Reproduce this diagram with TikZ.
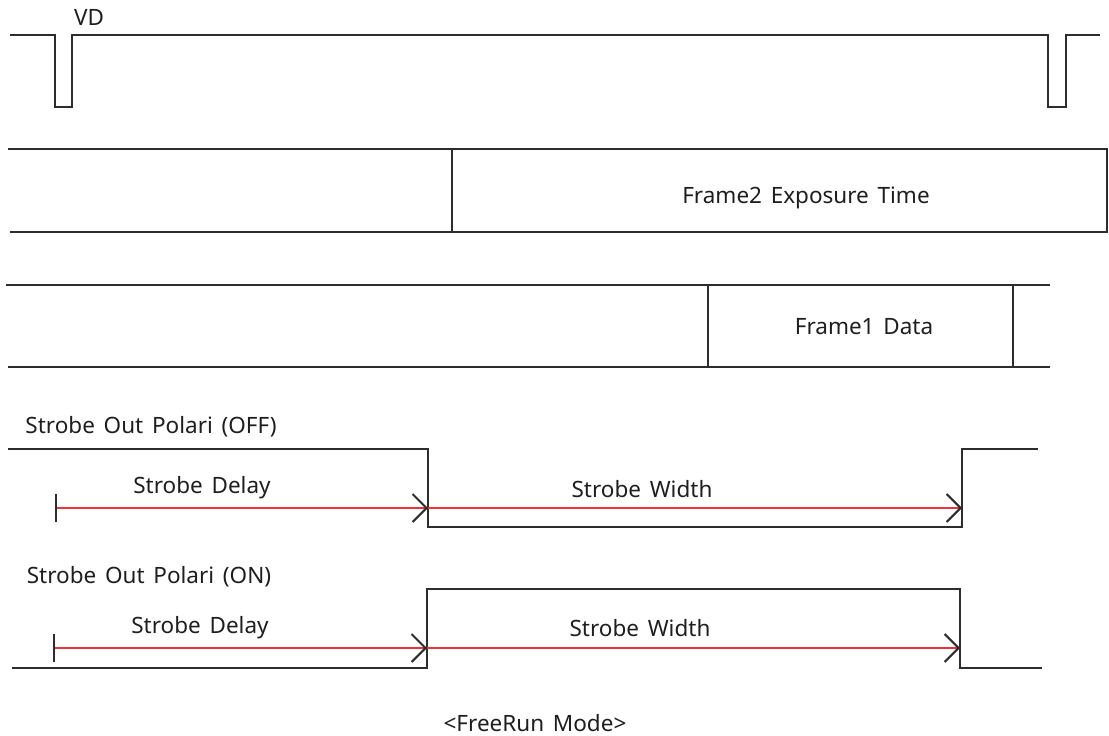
\documentclass[tikz,border=0pt]{standalone}
\usepackage{fontspec}
\setmainfont{Noto Sans}
\newfontfamily\lbfontfam[WordSpace=1.5]{Noto Sans}
\usetikzlibrary{arrows.meta}
\definecolor{linec}{RGB}{45,45,45}
\definecolor{redc}{RGB}{238,50,55}
\definecolor{txtc}{RGB}{30,30,30}
\tikzset{
  wave/.style={draw=linec, line width=2.2pt, line join=miter},
  lbl/.style={anchor=base, inner sep=0pt, text=txtc, font=\lbfontfam\fontsize{22.5}{26}\selectfont},
  delayarrow/.style={draw=redc, line width=2pt,
     {Bar[color=linec,width=28pt]}-{Straight Barb[color=linec,length=14pt,width=28pt]}},
  widtharrow/.style={draw=redc, line width=2pt,
     -{Straight Barb[color=linec,length=14pt,width=28pt]}}
}
\begin{document}
\begin{tikzpicture}[x=1pt,y=-1pt]
\useasboundingbox (0,0) rectangle (1109,736);
% VD
\draw[wave] (10,35) -- (55,35) -- (55,107) -- (72,107) -- (72,35) -- (1048,35) -- (1048,107) -- (1066,107) -- (1066,35) -- (1100,35);
\node[lbl] (vd) at (89,25) {VD};
% Exposure row
\draw[wave] (8,149) -- (1107,149) -- (1107,232) -- (10,232);
\draw[wave] (452,149) -- (452,232);
\node[lbl] (exp) at (806,203) {Frame2 Exposure Time};
% Data row
\draw[wave] (6,285) -- (1050,285);
\draw[wave] (8,367) -- (1050,367);
\draw[wave] (708,285) -- (708,367);
\draw[wave] (1013,285) -- (1013,367);
\node[lbl] (data) at (864,334) {Frame1 Data};
% Strobe OFF
\node[lbl] (offlbl) at (151,433) {Strobe Out Polari (OFF)};
\draw[wave] (8,449) -- (428,449) -- (428,527) -- (962,527) -- (962,449) -- (1038,449);
\coordinate (offs) at (55,508);
\coordinate (offm) at (428,508);
\coordinate (offe) at (962,508);
\draw[delayarrow] (offs) -- (offm);
\draw[widtharrow] (offm) -- (offe);
\node[lbl] (offdelay) at (202,493) {Strobe Delay};
\node[lbl] (offwidth) at (642,497) {Strobe Width};
% Strobe ON
\node[lbl] (onlbl) at (149,583) {Strobe Out Polari (ON)};
\draw[wave] (12,668) -- (427,668) -- (427,589) -- (960,589) -- (960,668) -- (1042,668);
\coordinate (ons) at (53,648);
\coordinate (onm) at (427,648);
\coordinate (one) at (960,648);
\draw[delayarrow] (ons) -- (onm);
\draw[widtharrow] (onm) -- (one);
\node[lbl] (ondelay) at (200,633) {Strobe Delay};
\node[lbl] (onwidth) at (640,636) {Strobe Width};
% caption
\node[lbl] (cap) at (535,731) {<FreeRun Mode>};
\end{tikzpicture}
\end{document}
